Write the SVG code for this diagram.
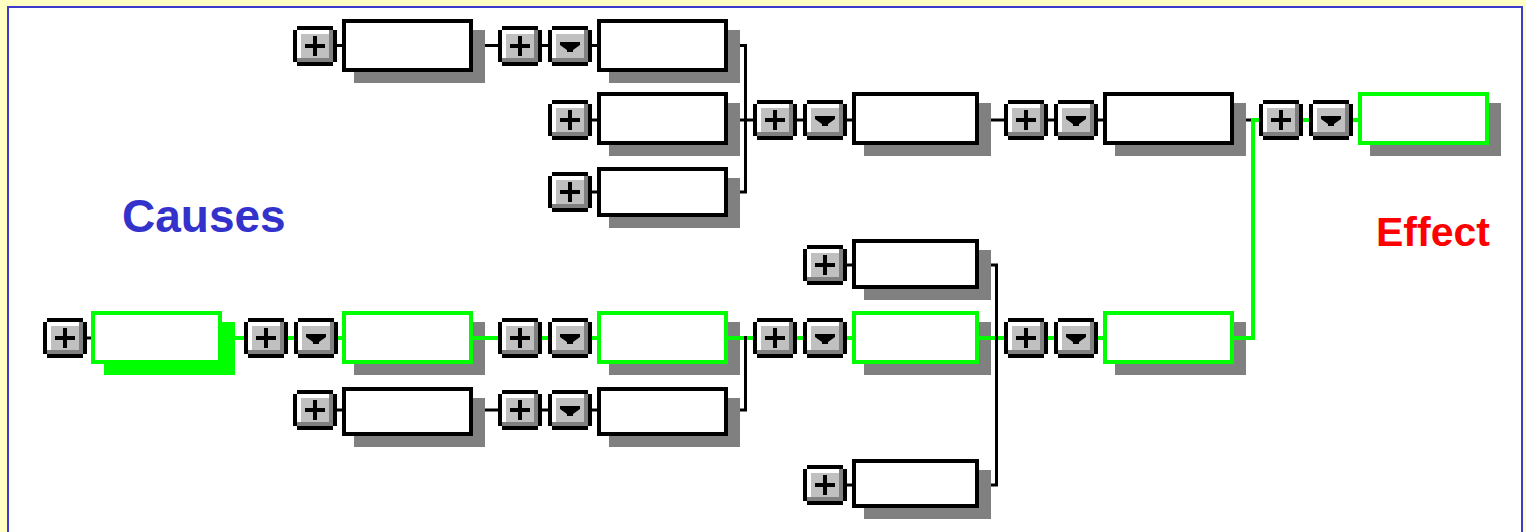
<svg xmlns="http://www.w3.org/2000/svg" xmlns:xlink="http://www.w3.org/1999/xlink" width="1526" height="532" viewBox="0 0 1526 532">
<style>
.sh{fill:#808080}
.shg{fill:#00FF00}
.box{fill:#FFFFFF;stroke:#000000;stroke-width:4}
.boxg{fill:#FFFFFF;stroke:#00FF00;stroke-width:4}
.cb{fill:none;stroke:#000000;stroke-width:3;stroke-linecap:butt}
.cg{fill:none;stroke:#00FF00;stroke-width:4;stroke-linecap:butt}
.lbl{font-family:"Liberation Sans",Arial,sans-serif;font-weight:bold}
</style>
<defs>
<g id="btnbase">
<path d="M4 0H40V4H4Z M4 36H40V40H4Z M0 4H4V36H0Z M40 4H44V36H40Z" fill="#000000"/>
<rect x="4" y="4" width="36" height="32" fill="#FFFFFF"/>
<rect x="36" y="4" width="4" height="32" fill="#808080"/>
<rect x="4" y="32" width="36" height="4" fill="#808080"/>
<rect x="8" y="8" width="28" height="24" fill="#C0C0C0"/>
</g>
<g id="plus">
<use href="#btnbase"/>
<rect x="12" y="18" width="20" height="4" fill="#000000"/>
<rect x="20" y="10" width="4" height="20" fill="#000000"/>
</g>
<g id="drop">
<use href="#btnbase"/>
<polygon points="12,16 32,16 32,19 25,24 25,26 19,26 19,24 12,19" fill="#000000"/>
</g>
</defs>

<rect x="0" y="0" width="1526" height="532" fill="#FFFFC4"/>
<rect x="8" y="7" width="1514" height="600" fill="#FFFFFF" stroke="#3B3BCC" stroke-width="2"/>

<text class="lbl" x="122" y="232" font-size="46" fill="#3333CC">Causes</text>
<text class="lbl" x="1376" y="246" font-size="41" fill="#FF0000">Effect</text>

<g id="node-a1">
<rect class="sh" x="354" y="30" width="131" height="53"/>
<rect class="box" x="344" y="21" width="127" height="49"/>
<use href="#plus" x="293" y="26"/>
</g>
<g id="node-a2">
<rect class="sh" x="609" y="30" width="131" height="53"/>
<rect class="box" x="599" y="21" width="127" height="49"/>
<use href="#plus" x="498" y="26"/>
<use href="#drop" x="548" y="26"/>
</g>
<g id="node-a3">
<rect class="sh" x="609" y="103" width="131" height="53"/>
<rect class="box" x="599" y="94" width="127" height="49"/>
<use href="#plus" x="548" y="100"/>
</g>
<g id="node-a4">
<rect class="sh" x="609" y="178" width="131" height="50"/>
<rect class="box" x="599" y="169" width="127" height="46"/>
<use href="#plus" x="548" y="172"/>
</g>
<g id="node-b1">
<rect class="sh" x="864" y="103" width="127" height="53"/>
<rect class="box" x="854" y="94" width="123" height="49"/>
<use href="#plus" x="753" y="100"/>
<use href="#drop" x="803" y="100"/>
</g>
<g id="node-b2">
<rect class="sh" x="1115" y="103" width="131" height="53"/>
<rect class="box" x="1105" y="94" width="127" height="49"/>
<use href="#plus" x="1004" y="100"/>
<use href="#drop" x="1054" y="100"/>
</g>
<g id="node-effect">
<rect class="sh" x="1370" y="103" width="131" height="53"/>
<rect class="boxg" x="1360" y="94" width="127" height="49"/>
<use href="#plus" x="1259" y="100"/>
<use href="#drop" x="1309" y="100"/>
</g>
<g id="node-e1">
<rect class="sh" x="864" y="250" width="127" height="50"/>
<rect class="box" x="854" y="241" width="123" height="46"/>
<use href="#plus" x="803" y="245"/>
</g>
<g id="node-c1">
<rect class="shg" x="104" y="322" width="131" height="53"/>
<rect class="boxg" x="93" y="313" width="127" height="49"/>
<use href="#plus" x="43" y="318"/>
</g>
<g id="node-c2">
<rect class="sh" x="354" y="322" width="131" height="53"/>
<rect class="boxg" x="344" y="313" width="127" height="49"/>
<use href="#plus" x="244" y="318"/>
<use href="#drop" x="294" y="318"/>
</g>
<g id="node-c3">
<rect class="sh" x="609" y="322" width="131" height="53"/>
<rect class="boxg" x="599" y="313" width="127" height="49"/>
<use href="#plus" x="498" y="318"/>
<use href="#drop" x="548" y="318"/>
</g>
<g id="node-c4">
<rect class="sh" x="864" y="322" width="127" height="53"/>
<rect class="boxg" x="854" y="313" width="123" height="49"/>
<use href="#plus" x="753" y="318"/>
<use href="#drop" x="803" y="318"/>
</g>
<g id="node-c5">
<rect class="sh" x="1115" y="322" width="131" height="53"/>
<rect class="boxg" x="1105" y="313" width="127" height="49"/>
<use href="#plus" x="1004" y="318"/>
<use href="#drop" x="1054" y="318"/>
</g>
<g id="node-d1">
<rect class="sh" x="354" y="398" width="131" height="49"/>
<rect class="box" x="344" y="389" width="127" height="45"/>
<use href="#plus" x="293" y="390"/>
</g>
<g id="node-d2">
<rect class="sh" x="609" y="398" width="131" height="49"/>
<rect class="box" x="599" y="389" width="127" height="45"/>
<use href="#plus" x="498" y="390"/>
<use href="#drop" x="548" y="390"/>
</g>
<g id="node-e2">
<rect class="sh" x="864" y="470" width="127" height="49"/>
<rect class="box" x="854" y="461" width="123" height="45"/>
<use href="#plus" x="803" y="465"/>
</g>

<g id="connectors">
<path class="cb" d="M337 45.5H342 M485 45.5H498 M542 45.5H548 M592 45.5H597 M740 45.5H747"/>
<path class="cb" d="M592 120H597 M740 120H753 M797 120H803 M847 120H852 M991 120H1004 M1048 120H1054 M1098 120H1103 M1246 120H1253"/>
<path class="cb" d="M592 192H597 M740 192H747"/>
<path class="cb" d="M847 265H852 M991 265H998 M847 485H852 M991 485H998"/>
<path class="cb" d="M87 338H91"/>
<path class="cb" d="M337 410H342 M485 410H498 M542 410H548 M592 410H597 M740 410H747"/>
<path class="cg" d="M235 338H244 M288 338H294 M338 338H342 M473 338H498 M542 338H548 M592 338H597 M728 338H753 M797 338H803 M847 338H852 M979 338H1004 M1048 338H1054 M1098 338H1103"/>
<path class="cg" d="M1234 338H1253V120H1259 M1303 120H1309 M1353 120H1358"/>
<path class="cb" d="M745.5 45.5V192"/>
<path class="cb" d="M745.5 336V410"/>
<path class="cb" d="M996.5 265V485"/>
</g>
</svg>
